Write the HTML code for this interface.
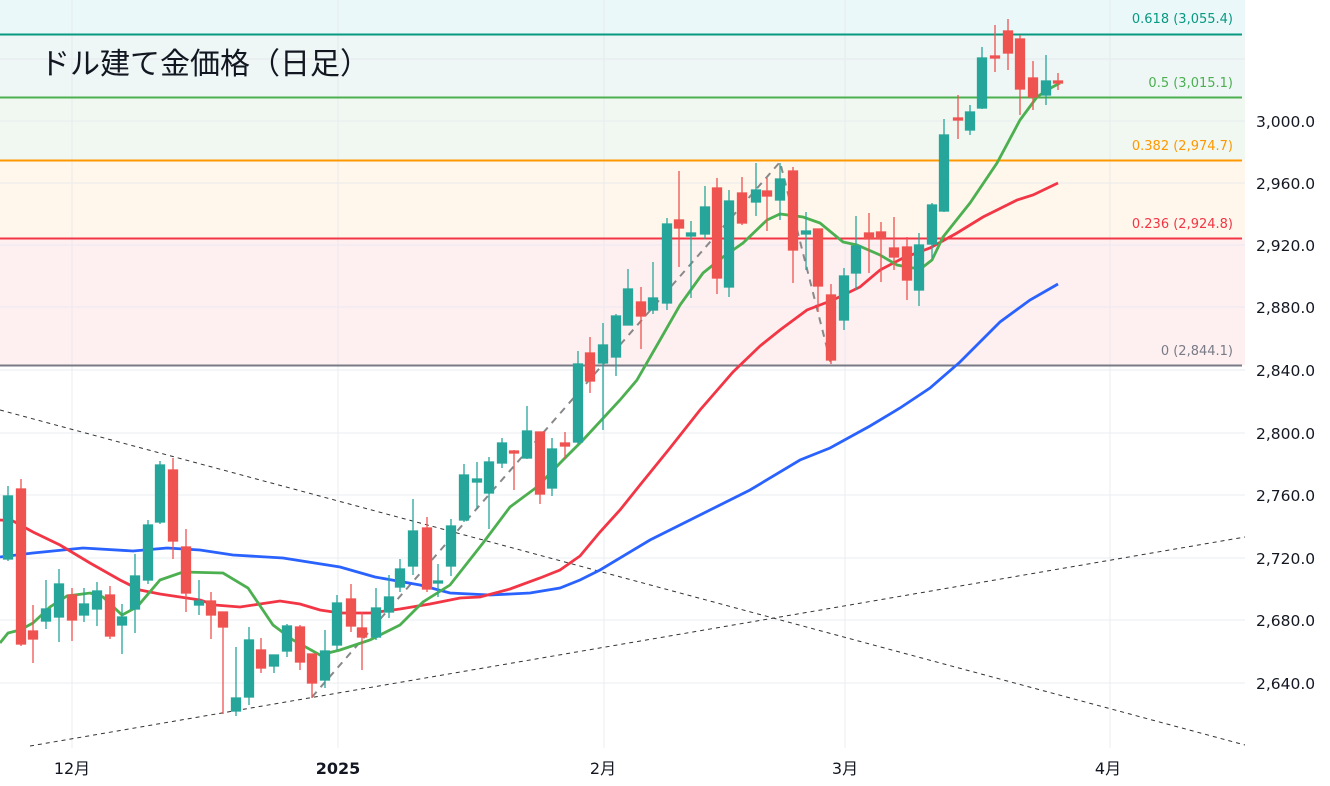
<!DOCTYPE html>
<html><head><meta charset="utf-8"><style>
html,body{margin:0;padding:0;background:#fff;}
svg{display:block;}
text{font-family:"DejaVu Sans","Liberation Sans","Noto Sans CJK JP",sans-serif;}
</style></head><body>
<svg width="1330" height="786" viewBox="0 0 1330 786" xmlns="http://www.w3.org/2000/svg">
<rect x="0" y="0" width="1330" height="786" fill="#fff"/>
<rect x="0" y="0" width="1245" height="34" fill="#eaf8fa"/>
<rect x="0" y="34" width="1245" height="63" fill="#eef7f5"/>
<rect x="0" y="97" width="1245" height="63" fill="#f1f8f1"/>
<rect x="0" y="160" width="1245" height="78" fill="#fff6ec"/>
<rect x="0" y="238" width="1245" height="127" fill="#fef0f1"/>
<g stroke="#e6e8ee" stroke-width="1" opacity="0.8">
<line x1="0" y1="59" x2="1245" y2="59"/><line x1="0" y1="121" x2="1245" y2="121"/><line x1="0" y1="183" x2="1245" y2="183"/><line x1="0" y1="245" x2="1245" y2="245"/><line x1="0" y1="307" x2="1245" y2="307"/><line x1="0" y1="370" x2="1245" y2="370"/><line x1="0" y1="433" x2="1245" y2="433"/><line x1="0" y1="495" x2="1245" y2="495"/><line x1="0" y1="558" x2="1245" y2="558"/><line x1="0" y1="620" x2="1245" y2="620"/><line x1="0" y1="683" x2="1245" y2="683"/>
<line x1="72" y1="0" x2="72" y2="748"/><line x1="338" y1="0" x2="338" y2="748"/><line x1="604" y1="0" x2="604" y2="748"/><line x1="845" y1="0" x2="845" y2="748"/><line x1="1110" y1="0" x2="1110" y2="748"/>
</g>
<line x1="0" y1="34.5" x2="1242" y2="34.5" stroke="#089981" stroke-width="2"/>
<line x1="0" y1="97.5" x2="1242" y2="97.5" stroke="#4caf50" stroke-width="2"/>
<line x1="0" y1="160.5" x2="1242" y2="160.5" stroke="#ff9800" stroke-width="2"/>
<line x1="0" y1="238.5" x2="1242" y2="238.5" stroke="#f23645" stroke-width="2"/>
<line x1="0" y1="365.5" x2="1242" y2="365.5" stroke="#787b86" stroke-width="2"/>
<g font-size="13" text-anchor="end">
<text x="1233" y="23" fill="#089981">0.618 (3,055.4)</text>
<text x="1233" y="87" fill="#4caf50">0.5 (3,015.1)</text>
<text x="1233" y="150" fill="#ff9800">0.382 (2,974.7)</text>
<text x="1233" y="228" fill="#f23645">0.236 (2,924.8)</text>
<text x="1233" y="355" fill="#787b86">0 (2,844.1)</text>
</g>
<text x="40" y="74" font-size="30" fill="#131722" style="font-family:'Noto Sans CJK JP',sans-serif">ドル建て金価格（日足）</text>
<line x1="0" y1="410" x2="1245" y2="745" stroke="#333" stroke-width="1" stroke-dasharray="4,4"/>
<line x1="30" y1="746" x2="1245" y2="537" stroke="#333" stroke-width="1" stroke-dasharray="4,4"/>
<polyline points="312,697 780,162 831,364" fill="none" stroke="#888" stroke-width="2" stroke-dasharray="7,6"/>
<polyline fill="none" stroke="#2962ff" stroke-width="2.8" points="0,557 33,553 83,548 133,551 167,548 200,550 233,555 283,558 340,567 375,577 420,585 450,593 490,595 530,593 560,588 580,580 600,570 650,540 700,515 750,490 800,460 830,448 870,426 900,408 930,388 960,362 1000,322 1030,300 1058,284"/>
<polyline fill="none" stroke="#f23645" stroke-width="2.8" points="0,520 13,521 33,532 60,545 90,563 120,580 140,590 160,594 180,597 200,600 215,605 240,607 260,604 280,601 300,604 320,610 340,613 370,613 400,609 430,604 460,598 480,597 510,589 540,578 560,570 580,556 600,532 620,510 640,485 670,448 700,410 733,372 760,346 780,330 807,310 833,300 860,287 880,270 903,258 930,248 957,233 983,217 1017,200 1033,195 1058,183"/>
<polyline fill="none" stroke="#4caf50" stroke-width="2.8" points="0,643 8,633 20,630 33,623 50,607 67,596 90,593 103,597 122,615 137,607 160,580 183,572 223,573 248,588 273,625 293,640 320,655 340,650 370,640 400,625 423,602 450,585 483,543 510,507 537,487 563,460 583,440 620,400 637,380 660,340 680,305 703,273 723,257 743,243 767,220 780,214 803,217 820,223 843,242 857,245 880,255 897,265 913,268 923,267 932,260 943,237 970,203 997,163 1020,120 1037,97 1047,90 1060,83"/>
<g stroke-width="1.3">
<g stroke="#26a69a" fill="#26a69a">
<line x1="8" y1="486" x2="8" y2="561"/><rect x="3.5" y="496" width="9" height="63"/>
<line x1="46" y1="580" x2="46" y2="629"/><rect x="41.5" y="609" width="9" height="12"/>
<line x1="59" y1="569" x2="59" y2="642"/><rect x="54.5" y="584" width="9" height="33"/>
<line x1="84" y1="588" x2="84" y2="622"/><rect x="79.5" y="604" width="9" height="11"/>
<line x1="97" y1="582" x2="97" y2="626"/><rect x="92.5" y="591" width="9" height="18"/>
<line x1="122" y1="604" x2="122" y2="654"/><rect x="117.5" y="617" width="9" height="8"/>
<line x1="135" y1="554" x2="135" y2="633"/><rect x="130.5" y="576" width="9" height="33"/>
<line x1="148" y1="520" x2="148" y2="584"/><rect x="143.5" y="525" width="9" height="55"/>
<line x1="160" y1="461" x2="160" y2="524"/><rect x="155.5" y="465" width="9" height="57"/>
<line x1="199" y1="580" x2="199" y2="615"/><rect x="194.5" y="601" width="9" height="4"/>
<line x1="236" y1="647" x2="236" y2="716"/><rect x="231.5" y="698" width="9" height="13"/>
<line x1="249" y1="627" x2="249" y2="705"/><rect x="244.5" y="640" width="9" height="57"/>
<line x1="274" y1="655" x2="274" y2="673"/><rect x="269.5" y="655" width="9" height="11"/>
<line x1="287" y1="624" x2="287" y2="657"/><rect x="282.5" y="626" width="9" height="25"/>
<line x1="325" y1="630" x2="325" y2="688"/><rect x="320.5" y="651" width="9" height="29"/>
<line x1="337" y1="595" x2="337" y2="650"/><rect x="332.5" y="603" width="9" height="42"/>
<line x1="376" y1="588" x2="376" y2="640"/><rect x="371.5" y="608" width="9" height="29"/>
<line x1="389" y1="575" x2="389" y2="618"/><rect x="384.5" y="597" width="9" height="15"/>
<line x1="400" y1="559" x2="400" y2="592"/><rect x="395.5" y="569" width="9" height="18"/>
<line x1="413" y1="499" x2="413" y2="575"/><rect x="408.5" y="531" width="9" height="35"/>
<line x1="438" y1="564" x2="438" y2="597"/><rect x="433.5" y="581" width="9" height="2"/>
<line x1="451" y1="519" x2="451" y2="576"/><rect x="446.5" y="526" width="9" height="40"/>
<line x1="464" y1="464" x2="464" y2="522"/><rect x="459.5" y="475" width="9" height="45"/>
<line x1="477" y1="462" x2="477" y2="509"/><rect x="472.5" y="479" width="9" height="3"/>
<line x1="489" y1="457" x2="489" y2="529"/><rect x="484.5" y="462" width="9" height="31"/>
<line x1="502" y1="438" x2="502" y2="468"/><rect x="497.5" y="443" width="9" height="20"/>
<line x1="527" y1="406" x2="527" y2="459"/><rect x="522.5" y="431" width="9" height="27"/>
<line x1="552" y1="438" x2="552" y2="496"/><rect x="547.5" y="449" width="9" height="39"/>
<line x1="578" y1="351" x2="578" y2="444"/><rect x="573.5" y="364" width="9" height="78"/>
<line x1="603" y1="323" x2="603" y2="430"/><rect x="598.5" y="345" width="9" height="18"/>
<line x1="616" y1="314" x2="616" y2="376"/><rect x="611.5" y="316" width="9" height="41"/>
<line x1="628" y1="269" x2="628" y2="325"/><rect x="623.5" y="289" width="9" height="36"/>
<line x1="653" y1="262" x2="653" y2="314"/><rect x="648.5" y="298" width="9" height="12"/>
<line x1="667" y1="218" x2="667" y2="310"/><rect x="662.5" y="224" width="9" height="79"/>
<line x1="691" y1="221" x2="691" y2="298"/><rect x="686.5" y="233" width="9" height="3"/>
<line x1="705" y1="186" x2="705" y2="239"/><rect x="700.5" y="207" width="9" height="27"/>
<line x1="729" y1="190" x2="729" y2="297"/><rect x="724.5" y="201" width="9" height="86"/>
<line x1="756" y1="163" x2="756" y2="216"/><rect x="751.5" y="190" width="9" height="12"/>
<line x1="780" y1="163" x2="780" y2="220"/><rect x="775.5" y="179" width="9" height="21"/>
<line x1="806" y1="212" x2="806" y2="270"/><rect x="801.5" y="231" width="9" height="3"/>
<line x1="844" y1="268" x2="844" y2="330"/><rect x="839.5" y="276" width="9" height="44"/>
<line x1="856" y1="216" x2="856" y2="290"/><rect x="851.5" y="246" width="9" height="27"/>
<line x1="919" y1="233" x2="919" y2="306"/><rect x="914.5" y="245" width="9" height="45"/>
<line x1="932" y1="203" x2="932" y2="258"/><rect x="927.5" y="205" width="9" height="39"/>
<line x1="944" y1="119" x2="944" y2="212"/><rect x="939.5" y="135" width="9" height="76"/>
<line x1="970" y1="105" x2="970" y2="135"/><rect x="965.5" y="112" width="9" height="18"/>
<line x1="982" y1="47" x2="982" y2="109"/><rect x="977.5" y="58" width="9" height="50"/>
<line x1="1046" y1="55" x2="1046" y2="105"/><rect x="1041.5" y="81" width="9" height="14"/>
</g>
<g stroke="#ef5350" fill="#ef5350">
<line x1="21" y1="479" x2="21" y2="646"/><rect x="16.5" y="489" width="9" height="155"/>
<line x1="33" y1="605" x2="33" y2="663"/><rect x="28.5" y="631" width="9" height="8"/>
<line x1="72" y1="588" x2="72" y2="641"/><rect x="67.5" y="595" width="9" height="25"/>
<line x1="110" y1="586" x2="110" y2="639"/><rect x="105.5" y="595" width="9" height="41"/>
<line x1="173" y1="458" x2="173" y2="559"/><rect x="168.5" y="470" width="9" height="71"/>
<line x1="186" y1="529" x2="186" y2="612"/><rect x="181.5" y="547" width="9" height="46"/>
<line x1="211" y1="592" x2="211" y2="639"/><rect x="206.5" y="601" width="9" height="14"/>
<line x1="223" y1="612" x2="223" y2="714"/><rect x="218.5" y="612" width="9" height="15"/>
<line x1="261" y1="638" x2="261" y2="673"/><rect x="256.5" y="650" width="9" height="18"/>
<line x1="300" y1="625" x2="300" y2="670"/><rect x="295.5" y="627" width="9" height="35"/>
<line x1="312" y1="654" x2="312" y2="698"/><rect x="307.5" y="654" width="9" height="29"/>
<line x1="351" y1="584" x2="351" y2="632"/><rect x="346.5" y="599" width="9" height="27"/>
<line x1="362" y1="612" x2="362" y2="670"/><rect x="357.5" y="628" width="9" height="9"/>
<line x1="427" y1="517" x2="427" y2="592"/><rect x="422.5" y="528" width="9" height="61"/>
<line x1="514" y1="450" x2="514" y2="490"/><rect x="509.5" y="451" width="9" height="2"/>
<line x1="540" y1="432" x2="540" y2="504"/><rect x="535.5" y="432" width="9" height="62"/>
<line x1="565" y1="432" x2="565" y2="459"/><rect x="560.5" y="443" width="9" height="3"/>
<line x1="590" y1="337" x2="590" y2="393"/><rect x="585.5" y="353" width="9" height="28"/>
<line x1="641" y1="287" x2="641" y2="349"/><rect x="636.5" y="302" width="9" height="14"/>
<line x1="679" y1="171" x2="679" y2="267"/><rect x="674.5" y="220" width="9" height="8"/>
<line x1="717" y1="178" x2="717" y2="294"/><rect x="712.5" y="188" width="9" height="90"/>
<line x1="742" y1="177" x2="742" y2="225"/><rect x="737.5" y="193" width="9" height="30"/>
<line x1="767" y1="178" x2="767" y2="231"/><rect x="762.5" y="191" width="9" height="5"/>
<line x1="793" y1="167" x2="793" y2="283"/><rect x="788.5" y="171" width="9" height="79"/>
<line x1="818" y1="229" x2="818" y2="312"/><rect x="813.5" y="229" width="9" height="57"/>
<line x1="831" y1="284" x2="831" y2="364"/><rect x="826.5" y="295" width="9" height="65"/>
<line x1="869" y1="213" x2="869" y2="273"/><rect x="864.5" y="233" width="9" height="6"/>
<line x1="881" y1="222" x2="881" y2="282"/><rect x="876.5" y="232" width="9" height="7"/>
<line x1="894" y1="217" x2="894" y2="270"/><rect x="889.5" y="248" width="9" height="9"/>
<line x1="907" y1="237" x2="907" y2="300"/><rect x="902.5" y="247" width="9" height="33"/>
<line x1="958" y1="95" x2="958" y2="139"/><rect x="953.5" y="118" width="9" height="2"/>
<line x1="995" y1="25" x2="995" y2="72"/><rect x="990.5" y="56" width="9" height="2"/>
<line x1="1008" y1="19" x2="1008" y2="70"/><rect x="1003.5" y="31" width="9" height="22"/>
<line x1="1020" y1="35" x2="1020" y2="115"/><rect x="1015.5" y="39" width="9" height="50"/>
<line x1="1033" y1="61" x2="1033" y2="110"/><rect x="1028.5" y="78" width="9" height="19"/>
<line x1="1058" y1="73" x2="1058" y2="90"/><rect x="1053.5" y="81" width="9" height="2"/>
</g>
</g>
<rect x="1245" y="0" width="85" height="786" fill="#fff"/>
<g font-size="15.5" fill="#131722">
<text x="1256" y="127">3,000.0</text>
<text x="1256" y="189">2,960.0</text>
<text x="1256" y="251">2,920.0</text>
<text x="1256" y="313">2,880.0</text>
<text x="1256" y="376">2,840.0</text>
<text x="1256" y="439">2,800.0</text>
<text x="1256" y="501">2,760.0</text>
<text x="1256" y="564">2,720.0</text>
<text x="1256" y="626">2,680.0</text>
<text x="1256" y="689">2,640.0</text>
</g>
<g font-size="16" fill="#131722" text-anchor="middle">
<text x="72" y="774">12月</text>
<text x="338" y="774" font-weight="bold">2025</text>
<text x="603" y="774">2月</text>
<text x="845" y="774">3月</text>
<text x="1108" y="774">4月</text>
</g>
</svg>
</body></html>
